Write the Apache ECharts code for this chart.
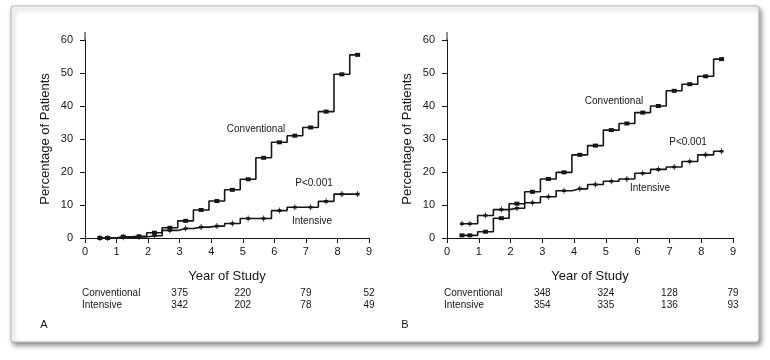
<!DOCTYPE html>
<html><head><meta charset="utf-8">
<script src="https://cdn.jsdelivr.net/npm/echarts@6/dist/echarts.min.js"></script>
<style>html,body{margin:0;padding:0;background:#fff}#c{width:770px;height:360px}</style>
</head><body><div id="c"></div>
<script>
// Visit times (years) shared by both panels
const years = [0.47,0.72,1.21,1.71,2.2,2.69,3.19,3.68,4.18,4.67,5.17,5.66,6.16,6.65,7.15,7.64,8.14,8.64];
// Panel A
const convA = [0,0,0.4,0.5,1.6,3.1,5.2,8.5,11.2,14.6,17.8,24.3,29.0,31.0,33.5,38.3,49.6,55.5];
const intA  = [0,0,0.2,0.3,0.7,2.3,2.9,3.3,3.6,4.4,5.9,5.9,8.3,9.3,9.3,11.1,13.3,13.3];
// Panel B
const convB = [0.8,0.8,1.9,6.0,10.4,14.0,17.9,19.9,25.2,28.0,32.7,34.7,38.0,40.0,44.6,46.6,49.0,54.2];
const intB  = [4.3,4.3,6.8,8.6,9.0,10.7,12.5,14.3,14.9,16.2,17.2,17.9,19.6,20.8,21.5,23.2,25.2,26.3];
// Numbers at risk
const riskYears = [3,5,7,9];
const riskConvA = [375,220,79,52];
const riskIntA  = [342,202,78,49];
const riskConvB = [348,324,128,79];
const riskIntB  = [354,335,136,93];
const xMin = 0, xMax = 9, xStep = 1;
const yMin = 0, yMax = 60, yStep = 10;

const FONT = '"Liberation Sans", Arial, sans-serif';
const INK = '#161616';
const plusPath = 'path://M2,0L3,0L3,2L5,2L5,5L3,5L3,7L2,7L2,5L0,5L0,2L2,2Z';

const chart = echarts.init(document.getElementById('c'), null, {renderer:'canvas'});

function xAx(gi){
  return {gridIndex:gi, type:'value', min:xMin, max:xMax, interval:xStep,
    axisLine:{show:true, onZero:false, lineStyle:{color:INK, width:1}},
    axisTick:{show:true, inside:false, length:5, lineStyle:{color:INK}},
    axisLabel:{color:INK, fontFamily:FONT, fontSize:11, margin:8},
    splitLine:{show:false},
    name:'Year of Study', nameLocation:'middle', nameGap:32,
    nameTextStyle:{color:INK, fontFamily:FONT, fontSize:13}};
}
function yAx(gi){
  return {gridIndex:gi, type:'value', min:yMin, max:yMax, interval:yStep,
    axisLine:{show:true, lineStyle:{color:INK, width:1}},
    axisTick:{show:true, inside:false, length:5, lineStyle:{color:INK}},
    axisLabel:{color:INK, fontFamily:FONT, fontSize:11, margin:12},
    splitLine:{show:false},
    name:'Percentage of Patients', nameLocation:'middle', nameGap:33,
    nameTextStyle:{color:INK, fontFamily:FONT, fontSize:13}};
}
function ser(gi, vals, sym, size){
  return {type:'line', xAxisIndex:gi, yAxisIndex:gi, step:'middle',
    data: years.map((x,i)=>[x, vals[i]]),
    symbol:sym, symbolSize:size, showSymbol:true,
    itemStyle:{color:INK}, lineStyle:{color:INK, width:1.6},
    animation:false, z:3};
}

chart.setOption({
  animation:false,
  backgroundColor:'#fff',
  grid:[
    {left:85, top:40, width:284, height:198},
    {left:447, top:40, width:286, height:198}
  ],
  xAxis:[xAx(0), xAx(1)],
  yAxis:[yAx(0), yAx(1)],
  series:[
    ser(0, convA, 'rect', [5,4]),
    ser(0, intA, plusPath, [4,6]),
    ser(1, convB, 'rect', [5,4]),
    ser(1, intB, plusPath, [4,6])
  ]
});

function txt(x, y, s, size, align){
  return {type:'text', x:x, y:y, z:50,
    style:{text:s, font: size+'px '+FONT, fill:INK, align:align||'center', verticalAlign:'middle'}};
}
const g = [];
g.push({type:'rect', z:-100, shape:{x:11, y:6, width:748, height:336, r:3},
  style:{fill:'#fff', stroke:'#b5b5b5', lineWidth:1, shadowBlur:5, shadowOffsetX:2, shadowOffsetY:3, shadowColor:'rgba(0,0,0,0.45)'}});

[0,1].forEach(gi=>{
  const top = chart.convertToPixel({gridIndex:gi}, [xMin, yMax]);
  g.push({type:'line', z:10, shape:{x1:top[0], y1:top[1]-8, x2:top[0], y2:top[1]}, style:{stroke:INK, lineWidth:1}});
  const conv = gi===0 ? riskConvA : riskConvB;
  const inten = gi===0 ? riskIntA : riskIntB;
  const left = chart.convertToPixel({gridIndex:gi}, [xMin, 0])[0];
  g.push(txt(left-3, 293, 'Conventional', 10, 'left'));
  g.push(txt(left-3, 305, 'Intensive', 10, 'left'));
  riskYears.forEach((yr,i)=>{
    const px = chart.convertToPixel({gridIndex:gi}, [yr, 0])[0];
    g.push(txt(px, 293, String(conv[i]), 10));
    g.push(txt(px, 305, String(inten[i]), 10));
  });
});
g.push(txt(256, 129, 'Conventional', 10));
g.push(txt(314, 183, 'P<0.001', 10));
g.push(txt(312, 221, 'Intensive', 10));
g.push(txt(614, 101, 'Conventional', 10));
g.push(txt(688, 142, 'P<0.001', 10));
g.push(txt(650, 188, 'Intensive', 10));
g.push(txt(44, 325, 'A', 11));
g.push(txt(405, 325, 'B', 11));

chart.setOption({graphic: g});
</script></body></html>
